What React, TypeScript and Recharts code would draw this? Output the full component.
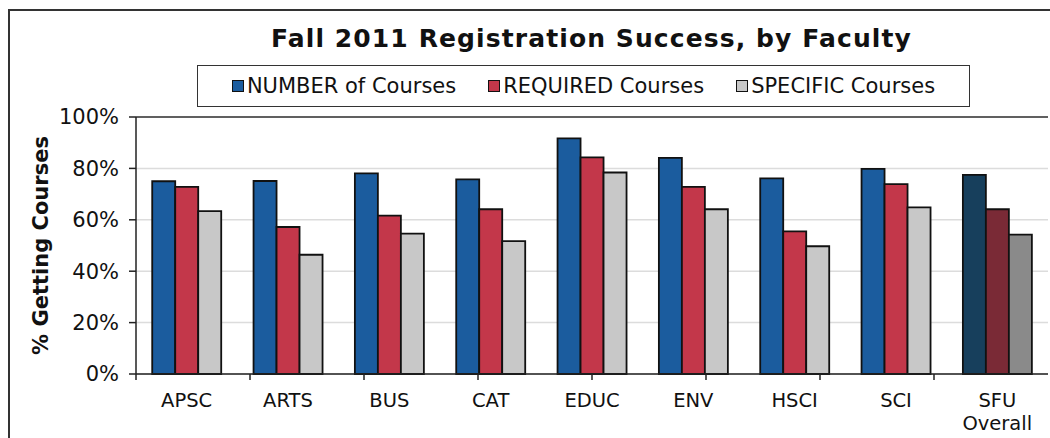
import React from "react";
import { BarChart, Bar, XAxis, YAxis, CartesianGrid, Cell, ReferenceLine } from "recharts";

const categories = ["APSC", "ARTS", "BUS", "CAT", "EDUC", "ENV", "HSCI", "SCI", "SFU Overall"];
const numberCourses = [75, 75.1, 78.1, 75.7, 91.7, 84.1, 76.1, 79.8, 77.5];
const requiredCourses = [72.8, 57.2, 61.6, 64.1, 84.3, 72.8, 55.5, 73.9, 64.1];
const specificCourses = [63.4, 46.4, 54.6, 51.7, 78.4, 64.1, 49.7, 64.8, 54.2];
const yTicks = [0, 20, 40, 60, 80, 100];
const edgeTicks = [0, 1, 2, 3, 4, 5, 6, 7, 8, 9];

const seriesNames = ["NUMBER of Courses", "REQUIRED Courses", "SPECIFIC Courses"];
const seriesColors = ["#1b5c9e", "#c3374a", "#c8c8c8"];
const overallColors = ["#173f5c", "#7a2a36", "#8a8a8a"];
const seriesKeys = ["num", "req", "spec"];

const data = categories.map((c, i) => ({
  cat: c,
  num: numberCourses[i],
  req: requiredCourses[i],
  spec: specificCourses[i],
}));

const FONT = "DejaVu Sans";

const CatTick = (props: any) => {
  const { x, y, payload } = props;
  const lines = String(payload.value).split(" ");
  return (
    <text x={x} y={y} textAnchor="middle" fill="#111" fontSize={19.5} fontFamily={FONT}>
      {lines.map((l, i) => (
        <tspan key={i} x={x} dy={i === 0 ? 19 : 23}>
          {l}
        </tspan>
      ))}
    </text>
  );
};

export default function App() {
  return (
    <div style={{ position: "absolute", left: 0, top: 0, width: 1050, height: 438, background: "#fff", overflow: "hidden", fontFamily: FONT }}>
      <div style={{ position: "absolute", left: 8, top: 9, width: 1100, height: 500, borderLeft: "2px solid #333", borderTop: "2px solid #333" }} />
      <div style={{ position: "absolute", left: 0, width: 1183, top: 24, textAlign: "center", fontWeight: "bold", fontSize: 25, letterSpacing: 1.1, color: "#111" }}>
        Fall 2011 Registration Success, by Faculty
      </div>
      <div style={{ position: "absolute", left: 197, top: 65, width: 773, height: 42, border: "1.5px solid #333", display: "flex", alignItems: "center", justifyContent: "center", gap: 32, fontSize: 21, color: "#111", boxSizing: "border-box" }}>
        {seriesNames.map((n, i) => (
          <div key={n} style={{ display: "flex", alignItems: "center" }}>
            <span style={{ display: "inline-block", width: 10, height: 10, background: seriesColors[i], border: "1.5px solid #111", marginRight: 3 }} />
            <span>{n}</span>
          </div>
        ))}
      </div>
      <div style={{ position: "absolute", left: 0, top: 0 }}>
        <BarChart width={1050} height={438} data={data} margin={{ top: 117, right: 2, bottom: 0, left: 8 }} barCategoryGap="16%" barGap={0}>
          <CartesianGrid vertical={false} stroke="#dcdcdc" strokeWidth={1.5} xAxisId="b_cat" />
          <XAxis xAxisId="a_edge" type="number" domain={[0, 9]} ticks={edgeTicks} tickFormatter={() => ""} height={6} tickSize={6} stroke="#222" strokeWidth={1.5} allowDataOverflow />
          <XAxis xAxisId="b_cat" dataKey="cat" height={58} tickLine={false} axisLine={false} tick={<CatTick />} interval={0} />
          <YAxis domain={[0, 100]} ticks={yTicks} tickFormatter={(v: number) => `${v}%`} width={128} tickSize={7} tickMargin={10} stroke="#222" strokeWidth={1.5} tick={{ fill: "#111", fontSize: 21, fontFamily: FONT }}
            label={{ value: "% Getting Courses", angle: -90, position: "insideLeft", offset: 33, style: { fontWeight: "bold", fontSize: 21, fill: "#111", fontFamily: FONT, textAnchor: "middle" } }} />
          <YAxis yAxisId="right" orientation="right" domain={[0, 100]} width={0} tick={false} tickLine={false} stroke="#333" strokeWidth={1.5} />
          <ReferenceLine y={100} stroke="#333" strokeWidth={1.5} xAxisId="b_cat" />
          {seriesKeys.map((k, si) => (
            <Bar key={k} xAxisId="b_cat" dataKey={k} fill={seriesColors[si]} stroke="#111" strokeWidth={1.8} isAnimationActive={false}>
              {data.map((d, i) => (
                <Cell key={i} fill={i === categories.length - 1 ? overallColors[si] : seriesColors[si]} />
              ))}
            </Bar>
          ))}
        </BarChart>
      </div>
    </div>
  );
}
